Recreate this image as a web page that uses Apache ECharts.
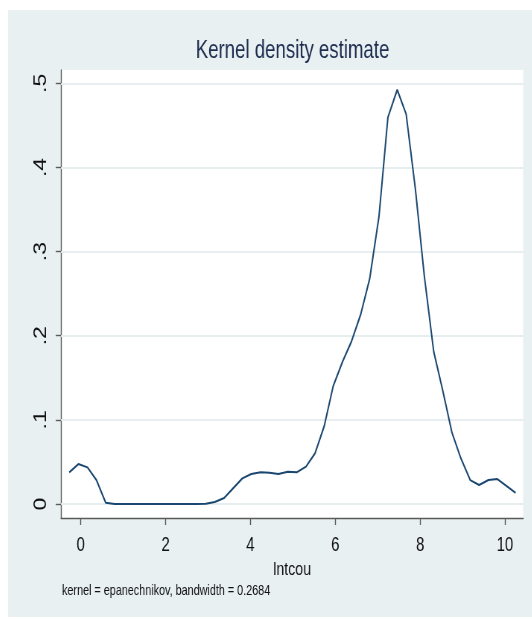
<!DOCTYPE html>
<html>
<head>
<meta charset="utf-8">
<script src="https://cdn.jsdelivr.net/npm/echarts@6/dist/echarts.min.js"></script>
<style>
html,body{margin:0;padding:0;background:#fff;overflow:hidden;width:532px;height:619px;}
#chart{position:absolute;left:8px;top:10px;height:607px;transform-origin:0 0;}
</style>
</head>
<body>
<div id="chart"></div>
<script>
// ---- data ----
const xValues = [-0.27,-0.055,0.16,0.37,0.59,0.80,1.02,1.23,1.45,1.66,1.88,2.09,2.30,2.52,2.73,2.95,3.16,3.38,3.59,3.81,
  4.02,4.24,4.45,4.66,4.88,5.09,5.31,5.52,5.74,5.95,6.17,6.38,6.60,6.81,7.03,7.24,7.46,7.67,7.89,8.10,
  8.32,8.53,8.75,8.96,9.18,9.39,9.61,9.82,10.04,10.25];
const density = [0.0377,0.0475,0.0436,0.0285,0.0016,0.0,0.0,0.0,0.0,0.0,0.0,0.0,0.0,0.0,0.0,0.0003,0.0024,0.0071,0.0186,0.0305,
  0.0357,0.0377,0.0373,0.0357,0.0384,0.0377,0.0444,0.0600,0.0927,0.140,0.169,0.193,0.2255,0.2675,0.3417,0.4594,0.4923,0.4634,0.3734,0.2703,
  0.1811,0.1356,0.0848,0.0543,0.0285,0.0226,0.0285,0.0297,0.0214,0.0134];
const xTicks = [0,2,4,6,8,10];
const xTickLabels = ['0','2','4','6','8','10'];
const yTicks = [0,0.1,0.2,0.3,0.4,0.5];
const yTickLabels = ['0','.1','.2','.3','.4','.5'];
const titleText = 'Kernel density estimate';
const xTitle = 'lntcou';
const noteText = 'kernel = epanechnikov, bandwidth = 0.2684';

// ---- layout ----
const S = 0.745;              // horizontal squeeze of the picture
const W = 524 / S;
const el = document.getElementById('chart');
el.style.width = W + 'px';
el.style.transform = 'scaleX(' + S + ')';
const FONT = '"Liberation Sans", Arial, sans-serif';
const AX = '#5a5a5a';

const chart = echarts.init(el, null, {renderer: 'canvas'});
chart.setOption({
  animation: false,
  backgroundColor: '#e8f0f2',
  title: [
    {text: titleText, left: (292.5 - 8) / S, top: 29, padding: 0, textAlign: 'center',
     textStyle: {fontSize: 25, fontWeight: 'normal', color: '#1e2d4f', fontFamily: FONT}},
    {text: noteText, left: (62 - 8) / S, top: 573, padding: 0,
     textStyle: {fontSize: 14.5, fontWeight: 'normal', color: '#111', fontFamily: FONT}}
  ],
  grid: {left: (61 - 8) / S, right: (532 - 523.5) / S, top: 60, bottom: 617 - 518,
         show: true, backgroundColor: '#ffffff', borderWidth: 0, outerBoundsMode: 'none'},
  xAxis: {
    type: 'value', min: -0.464, max: 10.43,
    axisLine: {show: true, onZero: false, lineStyle: {color: AX, width: 1.4}},
    axisTick: {show: true, customValues: xTicks, length: 7, lineStyle: {color: AX, width: 1.4}},
    axisLabel: {customValues: xTicks, margin: 17, fontSize: 20, color: '#111', fontFamily: FONT,
      formatter: v => xTickLabels[xTicks.indexOf(v)]},
    splitLine: {show: false},
    name: xTitle, nameLocation: 'middle', nameGap: 36,
    nameTextStyle: {fontSize: 19, color: '#111', fontFamily: FONT}
  },
  yAxis: {
    type: 'value', min: -0.0166, max: 0.5158,
    axisLine: {show: true, onZero: false, lineStyle: {color: AX, width: 1.4}},
    axisTick: {show: true, customValues: yTicks, length: 7, lineStyle: {color: AX, width: 1.4}},
    axisLabel: {customValues: yTicks, rotate: 90, margin: 15, fontSize: 23, color: '#111', fontFamily: FONT,
      formatter: v => yTickLabels[yTicks.indexOf(v)]},
    splitLine: {show: false}
  },
  series: [{
    type: 'line', z: 3, symbol: 'none', smooth: false,
    data: xValues.map((x, i) => [x, density[i]]),
    lineStyle: {color: '#1a476f', width: 2},
    markLine: {
      silent: true, z: 1, symbol: ['none', 'none'], label: {show: false},
      lineStyle: {color: '#e6eef0', width: 2, type: 'solid'},
      data: yTicks.map(v => ({yAxis: v}))
    }
  }]
});
</script>
</body>
</html>
